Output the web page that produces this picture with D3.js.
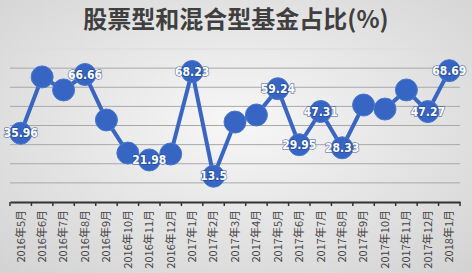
<!DOCTYPE html>
<html>
<head>
<meta charset="utf-8">
<script src="https://cdn.jsdelivr.net/npm/d3@7"></script>
<style>
  body { margin: 0; }
  svg { display: block; }
</style>
</head>
<body>
<svg id="chart" width="472" height="273"></svg>
<script>
const title = '股票型和混合型基金占比(%)';
const months = ['2016年5月','2016年6月','2016年7月','2016年8月','2016年9月','2016年10月','2016年11月','2016年12月',
  '2017年1月','2017年2月','2017年3月','2017年4月','2017年5月','2017年6月','2017年7月','2017年8月',
  '2017年9月','2017年10月','2017年11月','2017年12月','2018年1月'];
const shares = [35.96, 65.4, 58.6, 66.66, 42.9, 25.6, 21.98, 25.1, 68.23, 13.5, 41.8,
  45.5, 59.24, 29.95, 47.31, 28.33, 50.7, 48.6, 58.6, 47.27, 68.69];
// which points carry a value label
const labelled = [0, 3, 6, 8, 9, 12, 13, 14, 15, 19, 20];
const gridTicks = [10, 20, 30, 40, 50, 60, 70, 80];

const svg = d3.select('#chart');
const W = 472, H = 273;
const margin = {top: 49, right: 12, bottom: 71, left: 10};

// background gradient
const defs = svg.append('defs');
const grad = defs.append('radialGradient').attr('id', 'bg')
  .attr('cx', '50%').attr('cy', '45%').attr('r', '75%');
grad.append('stop').attr('offset', '0%').attr('stop-color', '#f7f7f7');
grad.append('stop').attr('offset', '100%').attr('stop-color', '#d2d2d2');
svg.append('rect').attr('width', W).attr('height', H).attr('fill', 'url(#bg)');

svg.append('text')
  .attr('x', W / 2).attr('y', 28)
  .attr('text-anchor', 'middle')
  .attr('font-family', '"Noto Sans CJK SC", sans-serif')
  .attr('font-weight', 'bold')
  .attr('font-size', 24)
  .attr('fill', '#3f3f3f')
  .text(title);

const x = d3.scaleBand().domain(months).range([margin.left, W - margin.right]);
const y = d3.scaleLinear().domain([0, 80]).range([H - margin.bottom, margin.top]);

// gridlines
svg.append('g').selectAll('line').data(gridTicks).enter().append('line')
  .attr('x1', margin.left).attr('x2', W - margin.right)
  .attr('y1', d => y(d)).attr('y2', d => y(d))
  .attr('stroke', d => d === 80 ? '#dcdcdc' : '#a8a8a8')
  .attr('stroke-width', 1);

// x axis
const xAxis = svg.append('g')
  .attr('transform', 'translate(0,' + y(0) + ')')
  .call(d3.axisBottom(x).tickSize(0).tickPadding(8));
xAxis.select('.domain').attr('stroke', '#333').attr('stroke-width', 2);
xAxis.selectAll('text')
  .attr('font-family', '"Noto Sans CJK SC", sans-serif')
  .attr('font-size', 11)
  .attr('fill', '#444')
  .attr('transform', 'rotate(-90)')
  .attr('text-anchor', 'end')
  .attr('dy', '0.35em')
  .attr('x', -8).attr('y', 0);
// tick marks at band edges
svg.append('g').selectAll('line').data(months.concat(['end'])).enter().append('line')
  .attr('x1', (d, i) => margin.left + i * x.step())
  .attr('x2', (d, i) => margin.left + i * x.step())
  .attr('y1', y(0)).attr('y2', y(0) + 4)
  .attr('stroke', '#333').attr('stroke-width', 1.5);

const cx = (d, i) => x(months[i]) + x.bandwidth() / 2;

svg.append('path')
  .datum(shares)
  .attr('d', d3.line().x(cx).y(d => y(d)))
  .attr('fill', 'none')
  .attr('stroke', '#3a66c2')
  .attr('stroke-width', 4);

svg.append('g').selectAll('circle').data(shares).enter().append('circle')
  .attr('cx', cx).attr('cy', d => y(d))
  .attr('r', 11)
  .attr('fill', '#3765c3')
  .attr('stroke', '#4a78cf')
  .attr('stroke-width', 1);

svg.append('g').selectAll('text').data(labelled).enter().append('text')
  .attr('x', i => cx(shares[i], i))
  .attr('y', i => y(shares[i]))
  .attr('dy', '0.35em')
  .attr('text-anchor', 'middle')
  .attr('font-family', '"DejaVu Sans Condensed", "Liberation Sans", sans-serif')
  .attr('font-weight', 'bold')
  .attr('font-size', 12)
  .attr('fill', '#fff')
  .attr('stroke', '#1e3f80')
  .attr('stroke-width', 1.5)
  .attr('stroke-opacity', 0.6)
  .attr('paint-order', 'stroke')
  .text(i => shares[i]);
</script>
</body>
</html>
